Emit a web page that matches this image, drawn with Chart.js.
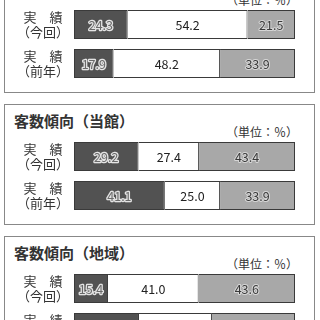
<!DOCTYPE html>
<html>
<head>
<meta charset="utf-8">
<script src="https://cdn.jsdelivr.net/npm/chart.js@4/dist/chart.umd.min.js"></script>
<style>
html, body { margin:0; padding:0; background:#fff; overflow:hidden; }
body { width:320px; height:320px; position:relative; font-family:"Noto Sans CJK JP", sans-serif; color:#333; }
.panel { position:absolute; left:4px; width:311px; height:121px; border:1px solid #888; box-sizing:border-box; background:#fff; }
.title { position:absolute; left:9px; top:6px; font-size:15px; font-weight:bold; line-height:20px; white-space:nowrap; }
.unit { position:absolute; right:16px; top:19px; font-size:12px; line-height:16px; white-space:nowrap; }
.panel canvas { position:absolute; left:0; top:32px; }
</style>
</head>
<body>

<div class="panel" style="top:-28px">
  <div class="title">客単価傾向（当館）</div>
  <div class="unit">（単位：％）</div>
  <canvas id="chart1" width="309" height="78"></canvas>
</div>

<div class="panel" style="top:104px">
  <div class="title">客数傾向（当館）</div>
  <div class="unit">（単位：％）</div>
  <canvas id="chart2" width="309" height="78"></canvas>
</div>

<div class="panel" style="top:236px">
  <div class="title">客数傾向（地域）</div>
  <div class="unit">（単位：％）</div>
  <canvas id="chart3" width="309" height="78"></canvas>
</div>

<script>
// rows and series
var rowLabels = [['実　績', '（今回）'], ['実　績', '（前年）']];
var seriesNames = ['増加', '横ばい', '減少'];

// panel 1 (top, title cut off)
var up1   = [24.3, 17.9];
var flat1 = [54.2, 48.2];
var down1 = [21.5, 33.9];

// panel 2 客数傾向（当館）
var up2   = [29.2, 41.1];
var flat2 = [27.4, 25.0];
var down2 = [43.4, 33.9];

// panel 3 客数傾向（地域） - second row is cut off
var up3   = [15.4, 29.4];
var flat3 = [41.0, 33.0];
var down3 = [43.6, 37.6];

var barColors = ['#525252', '#ffffff', '#a8a8a8'];
var FONT = '"Noto Sans CJK JP", sans-serif';

// numbers inside the segments
var valueLabels = {
  id: 'valueLabels',
  afterDatasetsDraw: function(chart) {
    var ctx = chart.ctx;
    ctx.save();
    ctx.font = '12.5px ' + FONT;
    ctx.textAlign = 'center';
    ctx.textBaseline = 'middle';
    ctx.lineJoin = 'round';
    chart.data.datasets.forEach(function(ds, i) {
      var meta = chart.getDatasetMeta(i);
      meta.data.forEach(function(bar, j) {
        var p = bar.getProps(['x', 'y', 'base'], true);
        var cx = (p.x + p.base) / 2;
        var cy = p.y + 1;
        var txt = ds.data[j].toFixed(1);
        if (i == 0) {
          ctx.strokeStyle = '#e4e4e4';
          ctx.lineWidth = 2.5;
          ctx.strokeText(txt, cx, cy);
          ctx.fillStyle = '#6a6a6a';
        } else if (i == 2) {
          ctx.strokeStyle = '#d6d6d6';
          ctx.lineWidth = 2;
          ctx.strokeText(txt, cx, cy);
          ctx.fillStyle = '#3a3a3a';
        } else {
          ctx.fillStyle = '#222';
        }
        ctx.fillText(txt, cx, cy);
      });
    });
    ctx.restore();
  }
};

function makePanel(id, up, flat, down)
{
  var values = [up, flat, down];
  var datasets = [];
  for (var i = 0; i < values.length; i++)
  {
    datasets.push({
      label: seriesNames[i],
      data: values[i],
      backgroundColor: barColors[i],
      borderColor: '#3a3a3a',
      borderWidth: 1,
      borderSkipped: i == 0 ? false : 'left',
      barPercentage: 29 / 39,
      categoryPercentage: 1
    });
  }

  var config =
  {
    type: 'bar',
    data: { labels: rowLabels, datasets: datasets },
    plugins: [valueLabels],
    options:
    {
      indexAxis: 'y',
      responsive: false,
      animation: false,
      layout: { padding: { left: 0, right: 19, top: 0, bottom: 0 } },
      scales:
      {
        x: { display: false, stacked: true, min: 0, max: 100 },
        y:
        {
          stacked: true,
          grid: { display: false, drawTicks: false },
          border: { display: false },
          ticks:
          {
            padding: 5,
            crossAlign: 'center',
            color: '#333',
            font: { family: FONT, size: 13, lineHeight: 1.12 }
          },
          afterFit: function(scale) {
            scale.width = 69;
            scale.paddingTop = 0;
            scale.paddingBottom = 0;
          }
        }
      },
      plugins:
      {
        legend: { display: false },
        tooltip: { enabled: false }
      }
    }
  };

  return new Chart(document.getElementById(id).getContext('2d'), config);
}

makePanel('chart1', up1, flat1, down1);
makePanel('chart2', up2, flat2, down2);
makePanel('chart3', up3, flat3, down3);
</script>
</body>
</html>
